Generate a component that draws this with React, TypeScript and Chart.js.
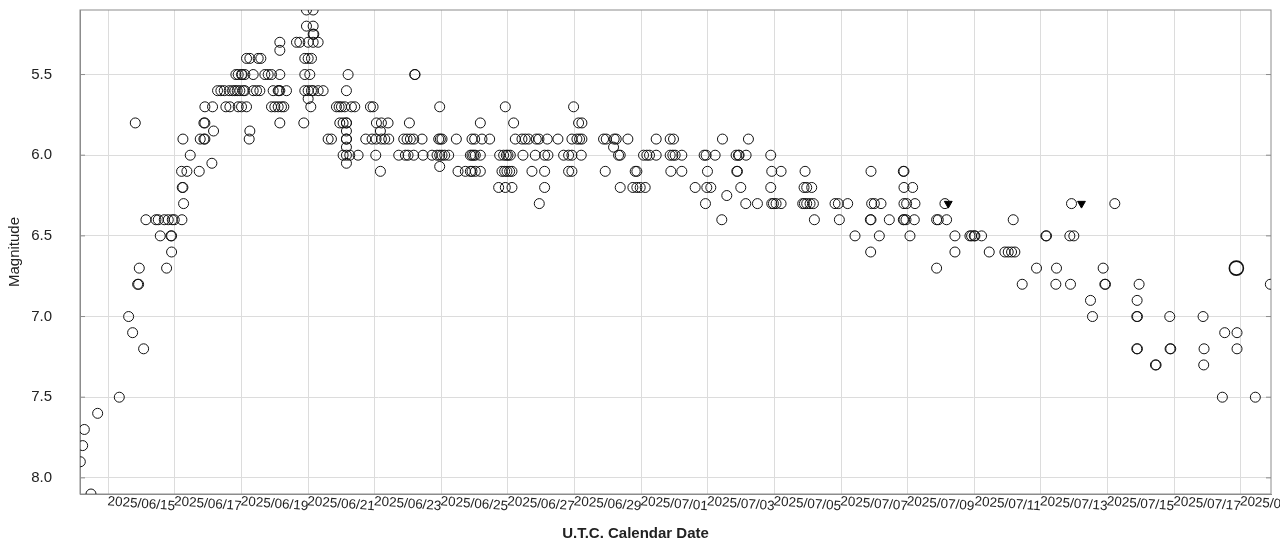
import { useEffect, useRef } from "react";
import { Chart, registerables } from "chart.js";
import type { Plugin } from "chart.js";

Chart.register(...registerables);

type Obs = [number, number];

// x = day counted from 2025-05-31 (06/15 -> 15, 07/01 -> 31), y = magnitude
const riseObs: Obs[] = [
  [12.16, 7.9], [12.23, 7.8], [12.28, 7.7], [12.48, 8.1], [12.68, 7.6],
  [13.33, 7.5], [13.61, 7.0], [13.73, 7.1], [13.81, 5.8], [13.88, 6.8], [13.91, 6.8], [13.93, 6.7],
  [14.06, 7.2], [14.13, 6.4], [14.43, 6.4], [14.5, 6.4], [14.56, 6.5], [14.68, 6.4], [14.75, 6.7],
  [14.8, 6.4], [14.88, 6.5], [14.9, 6.5], [14.9, 6.6], [14.92, 6.4], [14.98, 6.4],
  [15.2, 6.1], [15.21, 6.4], [15.22, 6.2], [15.24, 6.2], [15.24, 5.9], [15.26, 6.3], [15.36, 6.1],
  [15.46, 6.0], [15.73, 6.1], [15.76, 5.9], [15.87, 5.9], [15.9, 5.9], [15.87, 5.8], [15.9, 5.8],
  [15.9, 5.7], [16.11, 6.05], [16.13, 5.7], [16.16, 5.85],
];

const peakObs: Obs[] = [
  [16.28, 5.6], [16.38, 5.6], [16.48, 5.6], [16.53, 5.7], [16.63, 5.6], [16.65, 5.7], [16.73, 5.6],
  [16.8, 5.6], [16.83, 5.5], [16.87, 5.6], [16.9, 5.5], [16.9, 5.7], [16.95, 5.6], [17.0, 5.5],
  [17.0, 5.7], [17.02, 5.5], [17.05, 5.6], [17.1, 5.5], [17.1, 5.6], [17.15, 5.4], [17.15, 5.7],
  [17.23, 5.9], [17.25, 5.4], [17.25, 5.85], [17.35, 5.5], [17.35, 5.6], [17.45, 5.6], [17.5, 5.4],
  [17.55, 5.6], [17.58, 5.4], [17.7, 5.5], [17.8, 5.5], [17.9, 5.5], [17.9, 5.7], [17.95, 5.6],
  [18.0, 5.7], [18.1, 5.6], [18.1, 5.7], [18.12, 5.6], [18.15, 5.3], [18.15, 5.35], [18.15, 5.5],
  [18.15, 5.6], [18.15, 5.8], [18.2, 5.7], [18.27, 5.7], [18.35, 5.6], [18.65, 5.3], [18.75, 5.3],
  [18.87, 5.8], [18.9, 5.4], [18.9, 5.5], [18.9, 5.6], [18.95, 5.1], [18.95, 5.2], [19.0, 5.3],
  [19.0, 5.4], [19.0, 5.6], [19.0, 5.65], [19.05, 5.5], [19.08, 5.7], [19.1, 5.4], [19.1, 5.6],
  [19.15, 5.1], [19.15, 5.2], [19.15, 5.25], [19.17, 5.25], [19.15, 5.3], [19.15, 5.6], [19.3, 5.3],
  [19.3, 5.6], [19.45, 5.6],
];

const plateauObs: Obs[] = [
  [19.6, 5.9], [19.7, 5.9], [19.85, 5.7], [19.93, 5.7], [19.95, 5.8], [20.0, 5.7], [20.05, 5.8],
  [20.05, 6.0], [20.1, 5.7], [20.15, 5.6], [20.15, 5.8], [20.15, 5.8], [20.15, 5.85], [20.15, 5.9],
  [20.15, 5.9], [20.15, 5.95], [20.15, 6.0], [20.15, 6.05], [20.2, 5.5], [20.25, 6.0], [20.3, 5.7],
  [20.4, 5.7], [20.5, 6.0], [20.73, 5.9], [20.87, 5.7], [20.92, 5.9], [20.95, 5.7], [21.03, 6.0],
  [21.04, 5.9], [21.05, 5.8], [21.17, 5.85], [21.17, 6.1], [21.2, 5.8], [21.2, 5.9], [21.3, 5.9],
  [21.4, 5.8], [21.42, 5.9], [21.72, 6.0], [21.87, 5.9], [21.92, 6.0], [21.97, 5.9], [22.0, 6.0],
  [22.04, 5.8], [22.07, 5.9], [22.17, 5.9], [22.17, 6.0], [22.2, 5.5], [22.21, 5.5], [22.42, 5.9],
  [22.45, 6.0], [22.72, 6.0], [22.87, 6.0], [22.92, 5.9], [22.95, 5.7], [22.95, 6.0], [22.95, 6.07],
  [22.97, 5.9], [23.02, 5.9], [23.02, 6.0], [23.1, 6.0], [23.22, 6.0], [23.45, 5.9],
];

const midObs: Obs[] = [
  [23.5, 6.1], [23.72, 6.1], [23.87, 6.0], [23.87, 6.1], [23.92, 5.9], [23.92, 6.0], [23.92, 6.1],
  [23.97, 6.0], [24.0, 5.9], [24.02, 6.0], [24.02, 6.1], [24.17, 5.8], [24.17, 6.0], [24.17, 6.1],
  [24.22, 5.9], [24.45, 5.9], [24.72, 6.2], [24.75, 6.0], [24.82, 6.1], [24.87, 6.0], [24.9, 6.1],
  [24.92, 5.7], [24.92, 6.2], [24.95, 6.0], [24.97, 6.1], [25.0, 6.0], [25.05, 6.1], [25.07, 6.0],
  [25.12, 6.1], [25.12, 6.2], [25.17, 5.8], [25.22, 5.9], [25.42, 5.9], [25.45, 6.0], [25.52, 5.9],
  [25.62, 5.9], [25.72, 6.1], [25.82, 6.0], [25.85, 5.9], [25.93, 5.9], [25.94, 6.3], [26.1, 6.0],
  [26.1, 6.1], [26.1, 6.2], [26.18, 5.9], [26.2, 6.0],
];

const lateJuneObs: Obs[] = [
  [26.5, 5.9], [26.67, 6.0], [26.82, 6.0], [26.82, 6.1], [26.92, 5.9], [26.92, 6.0], [26.92, 6.1],
  [26.97, 5.7], [27.07, 5.9], [27.12, 5.8], [27.15, 5.9], [27.2, 6.0], [27.22, 5.8], [27.22, 5.9],
  [27.87, 5.9], [27.92, 6.1], [27.95, 5.9], [28.17, 5.95], [28.19, 5.9], [28.25, 5.9], [28.32, 6.0],
  [28.37, 6.0], [28.37, 6.2], [28.6, 5.9], [28.75, 6.2], [28.82, 6.1], [28.87, 6.1], [28.87, 6.2],
  [28.97, 6.2], [29.07, 6.0], [29.12, 6.2], [29.17, 6.0], [29.25, 6.0], [29.45, 5.9], [29.45, 6.0],
  [29.87, 5.9], [29.87, 6.0], [29.89, 6.1], [29.95, 6.0], [29.97, 5.9], [30.02, 6.0], [30.22, 6.0],
  [30.22, 6.1], [30.62, 6.2],
];

const earlyJulyObs: Obs[] = [
  [30.89, 6.0], [30.93, 6.3], [30.95, 6.0], [30.97, 6.2], [30.99, 6.1], [31.09, 6.2], [31.22, 6.0],
  [31.42, 6.4], [31.44, 5.9], [31.57, 6.25], [31.85, 6.0], [31.87, 6.1], [31.89, 6.1], [31.92, 6.0],
  [31.94, 6.0], [31.99, 6.2], [32.14, 6.3], [32.15, 6.0], [32.22, 5.9], [32.49, 6.3], [32.89, 6.0],
  [32.89, 6.2], [32.92, 6.1], [32.92, 6.3], [32.97, 6.3], [33.05, 6.3], [33.2, 6.1], [33.2, 6.3],
  [33.85, 6.3], [33.89, 6.2], [33.9, 6.3], [33.92, 6.1], [33.97, 6.2], [33.97, 6.3], [34.07, 6.3],
  [34.12, 6.2], [34.17, 6.3], [34.2, 6.4], [34.82, 6.3], [34.92, 6.3], [34.95, 6.4], [35.2, 6.3],
  [35.42, 6.5], [35.88, 6.4], [35.89, 6.6], [35.9, 6.1], [35.9, 6.4], [35.92, 6.3], [36.0, 6.3],
  [36.15, 6.5], [36.2, 6.3], [36.45, 6.4], [36.87, 6.1], [36.87, 6.4], [36.89, 6.1], [36.89, 6.2],
  [36.89, 6.3], [36.89, 6.4], [36.95, 6.4], [36.97, 6.3], [37.07, 6.5], [37.15, 6.2], [37.2, 6.4],
  [37.22, 6.3], [37.87, 6.4], [37.87, 6.7], [37.92, 6.4],
];

const fadeObs: Obs[] = [
  [38.12, 6.3], [38.17, 6.4], [38.42, 6.5], [38.42, 6.6], [38.87, 6.5], [38.92, 6.5], [39.0, 6.5],
  [39.02, 6.5], [39.22, 6.5], [39.45, 6.6], [39.92, 6.6], [40.02, 6.6], [40.12, 6.6], [40.17, 6.4],
  [40.22, 6.6], [40.44, 6.8], [40.87, 6.7], [41.15, 6.5], [41.17, 6.5], [41.45, 6.8], [41.47, 6.7],
  [41.87, 6.5], [41.89, 6.8], [41.92, 6.3], [41.99, 6.5], [42.49, 6.9], [42.55, 7.0], [42.87, 6.7],
  [42.92, 6.8], [42.94, 6.8], [43.22, 6.3], [43.88, 7.0], [43.88, 7.2], [43.89, 6.9], [43.9, 7.0],
  [43.9, 7.2], [43.95, 6.8], [44.44, 7.3], [44.46, 7.3], [44.87, 7.0], [44.88, 7.2], [44.9, 7.2],
  [45.87, 7.0], [45.89, 7.3], [45.9, 7.2], [46.45, 7.5], [46.52, 7.1], [46.89, 7.1], [46.89, 7.2],
  [47.44, 7.5], [47.89, 6.8],
];

// "fainter than" estimates (filled down triangles)
const fainterThan: Obs[] = [[38.22, 6.3], [42.22, 6.3]];
// one observation drawn with a larger ring
const wideObs: Obs[] = [[46.87, 6.7]];

const dateTicks = [13, 15, 17, 19, 21, 23, 25, 27, 29, 31, 33, 35, 37, 39, 41, 43, 45, 47, 49];
const magTicks = [5.5, 6.0, 6.5, 7.0, 7.5, 8.0];

const FONT = "'Liberation Sans', Arial, sans-serif";
const INK = "#222";
const GRID = "#dcdcdc";
const FRAME = "#8c8c8c";

function dayLabel(day: number) {
  if (day < 15) return ""; // first line has no label
  const d = new Date(Date.UTC(2025, 4, 31 + day));
  const mm = String(d.getUTCMonth() + 1).padStart(2, "0");
  const dd = String(d.getUTCDate()).padStart(2, "0");
  return `2025/${mm}/${dd}`;
}

const toPoints = (rows: Obs[]) => rows.map(([x, y]) => ({ x, y }));

// box round the plot with short inward ticks on both sides
const framePlugin: Plugin<"scatter"> = {
  id: "frame",
  beforeDatasetsDraw(chart) {
    const { ctx, chartArea: a, scales } = chart;
    ctx.save();
    ctx.strokeStyle = FRAME;
    ctx.lineWidth = 1;
    ctx.strokeRect(a.left, a.top, a.right - a.left, a.bottom - a.top);
    for (const t of scales.y.ticks) {
      const py = scales.y.getPixelForValue(t.value);
      ctx.beginPath();
      ctx.moveTo(a.left, py);
      ctx.lineTo(a.left + 5, py);
      ctx.moveTo(a.right - 5, py);
      ctx.lineTo(a.right, py);
      ctx.stroke();
    }
    ctx.restore();
  },
};

// slanted date labels, right end on the grid line
const dateLabelPlugin: Plugin<"scatter"> = {
  id: "dateLabels",
  afterDraw(chart) {
    const { ctx, chartArea: a, scales } = chart;
    const xs = scales.x;
    ctx.save();
    ctx.fillStyle = INK;
    ctx.font = `13.5px ${FONT}`;
    ctx.textAlign = "right";
    ctx.textBaseline = "middle";
    for (const t of xs.ticks) {
      const label = dayLabel(t.value);
      if (!label) continue;
      ctx.save();
      ctx.translate(xs.getPixelForValue(t.value), a.bottom + 12.5);
      ctx.rotate((4.2 * Math.PI) / 180);
      ctx.fillText(label, 0, 0);
      ctx.restore();
    }
    ctx.restore();
  },
};

export default function App() {
  const canvasRef = useRef<HTMLCanvasElement | null>(null);

  useEffect(() => {
    if (!canvasRef.current) return;
    const ring = {
      pointStyle: "circle" as const,
      pointBorderColor: "#111",
      pointBackgroundColor: "rgba(0,0,0,0)",
      showLine: false,
    };

    const chart = new Chart(canvasRef.current, {
      type: "scatter",
      data: {
        datasets: [
          {
            label: "Visual",
            data: toPoints([
              ...riseObs, ...peakObs, ...plateauObs, ...midObs,
              ...lateJuneObs, ...earlyJulyObs, ...fadeObs,
            ]),
            ...ring,
            pointRadius: 5,
            pointBorderWidth: 1,
          },
          {
            label: "Wide",
            data: toPoints(wideObs),
            ...ring,
            pointRadius: 7,
            pointBorderWidth: 1.6,
          },
          {
            label: "Fainter than",
            data: toPoints(fainterThan),
            pointStyle: "triangle",
            pointRotation: 180,
            pointRadius: 4.5,
            pointBackgroundColor: "#000",
            pointBorderColor: "#000",
            pointBorderWidth: 1,
            showLine: false,
          },
        ],
      },
      options: {
        animation: false,
        responsive: true,
        maintainAspectRatio: false,
        events: [],
        layout: { padding: { top: 10, right: 9, left: 0, bottom: 0 } },
        plugins: {
          legend: { display: false },
          tooltip: { enabled: false },
          title: {
            display: true,
            position: "bottom",
            text: "U.T.C. Calendar Date",
            color: INK,
            font: { family: FONT, size: 15, weight: "bold" },
            padding: { top: 5, bottom: 0 },
          },
        },
        scales: {
          x: {
            type: "linear",
            min: 12.15,
            max: 47.91,
            afterBuildTicks: (s) => {
              s.ticks = dateTicks.map((value) => ({ value }));
            },
            afterFit: (s) => {
              s.height = 26;
              s.paddingLeft = 0;
              s.paddingRight = 0;
            },
            grid: { color: GRID, drawTicks: false },
            border: { color: FRAME },
            ticks: { display: false, autoSkip: false },
          },
          y: {
            type: "linear",
            reverse: true,
            min: 5.1,
            max: 8.1,
            afterBuildTicks: (s) => {
              s.ticks = magTicks.map((value) => ({ value }));
            },
            afterFit: (s) => {
              s.width = 80;
              s.paddingTop = 0;
              s.paddingBottom = 0;
            },
            grid: { color: GRID, drawTicks: false },
            border: { color: FRAME },
            ticks: {
              padding: 28,
              color: INK,
              font: { family: FONT, size: 15 },
              callback: (v) => Number(v).toFixed(1),
            },
            title: {
              display: true,
              text: "Magnitude",
              color: INK,
              font: { family: FONT, size: 15 },
              padding: { top: 6, bottom: 0 },
            },
          },
        },
      },
      plugins: [framePlugin, dateLabelPlugin],
    });
    return () => chart.destroy();
  }, []);

  return (
    <div style={{ position: "fixed", left: 0, top: 0, width: 1280, height: 543, background: "#fff" }}>
      <canvas ref={canvasRef} />
    </div>
  );
}
